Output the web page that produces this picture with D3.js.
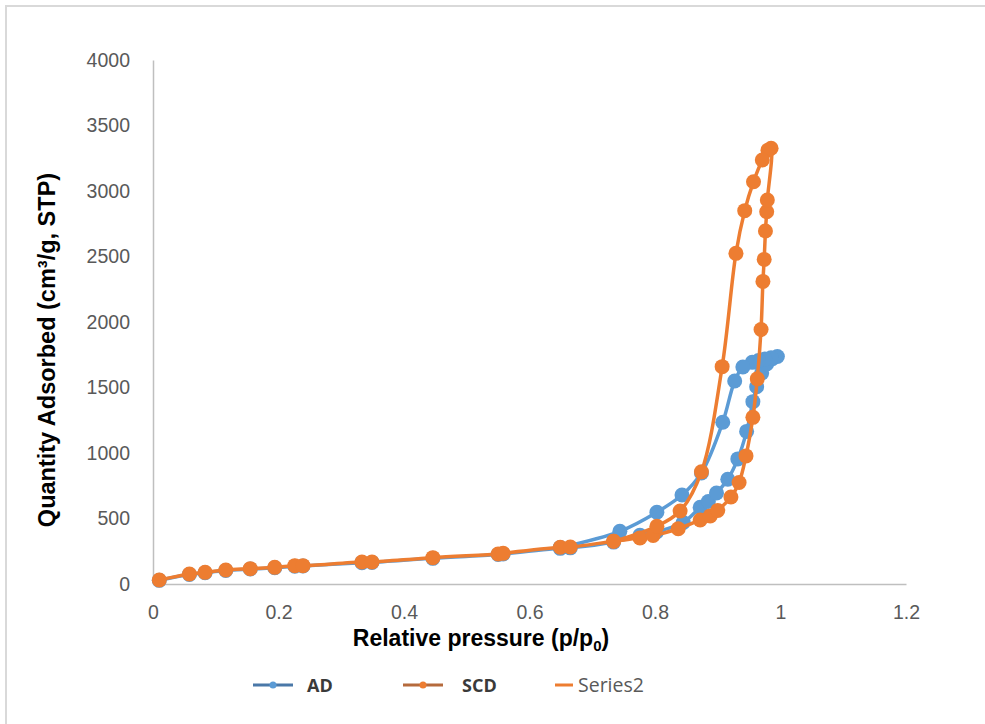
<!DOCTYPE html>
<html>
<head>
<meta charset="utf-8">
<style>
  body { margin: 0; background: #fff; }
  svg { font-family: "Open Sans", "Liberation Sans", sans-serif; }
  .tick text { fill: #595959; font-size: 19.5px; }
  .title { font-family: "Liberation Sans", Arial, sans-serif; font-weight: bold; fill: #000; }
</style>
</head>
<body>
<svg id="chart" width="985" height="724"></svg>
<script src="https://d3js.org/d3.v7.min.js"></script>
<script>

// ----------------------------------------------------------------------------
//                               DATA
// ----------------------------------------------------------------------------
// AD isotherm: adsorption then desorption branch (p/p0, cm3/g STP)
var adPressure = [0.010, 0.058, 0.083, 0.116, 0.155, 0.194, 0.226, 0.239, 0.333, 0.349,
                  0.446, 0.550, 0.558, 0.649, 0.665, 0.734, 0.776, 0.803, 0.845, 0.872,
                  0.885, 0.898, 0.916, 0.932, 0.946, 0.956, 0.962, 0.970, 0.978, 0.987,
                  0.995,
                  0.985, 0.975, 0.965, 0.955, 0.940, 0.927, 0.908, 0.874, 0.843, 0.803,
                  0.744, 0.649];
var adQuantity = [28, 72, 86, 103, 114, 124, 135, 137, 163, 165,
                  196, 225, 229, 272, 276, 320, 372, 400, 470, 585,
                  630, 695, 800, 955, 1165, 1392, 1506, 1610, 1680, 1720,
                  1737,
                  1727, 1717, 1706, 1692, 1656, 1550, 1235, 848, 679, 548,
                  402, 278];

// SCD isotherm
var scdPressure = [0.010, 0.058, 0.083, 0.116, 0.155, 0.194, 0.226, 0.239, 0.333, 0.349,
                   0.446, 0.550, 0.558, 0.649, 0.665, 0.734, 0.776, 0.797, 0.837, 0.872,
                   0.888, 0.900, 0.921, 0.934, 0.945, 0.956, 0.963, 0.969, 0.972, 0.974,
                   0.976, 0.978, 0.979, 0.985,
                   0.980, 0.971, 0.957, 0.943, 0.929, 0.907, 0.874, 0.840, 0.803, 0.734];
var scdQuantity = [30, 76, 89, 107, 117, 127, 140, 140, 168, 168,
                   201, 229, 234, 280, 282, 326, 352, 370, 422, 489,
                   520, 562, 664, 775, 978, 1272, 1566, 1943, 2310, 2478,
                   2695, 2842, 2931, 3326,
                   3312, 3237, 3071, 2850, 2524, 1659, 856, 557, 441, 326];

var xTicks = [0, 0.2, 0.4, 0.6, 0.8, 1, 1.2];
var yTicks = [0, 500, 1000, 1500, 2000, 2500, 3000, 3500, 4000];

var blue = "#5B9BD5",
    orange = "#ED7D31";

// ----------------------------------------------------------------------------
//                               CHART
// ----------------------------------------------------------------------------
var svg = d3.select("#chart");

// chart area border
svg.append("rect")
    .attr("x", 6).attr("y", 6)
    .attr("width", 995).attr("height", 730)
    .attr("fill", "none")
    .attr("stroke", "#d9d9d9")
    .attr("stroke-width", 2);

var x = d3.scaleLinear().domain([0, 1.2]).range([153, 906]);
var y = d3.scaleLinear().domain([0, 4000]).range([584, 60]);

// axes
var xAxis = svg.append("g")
    .attr("transform", "translate(0,584)")
    .call(d3.axisBottom(x).tickValues(xTicks).tickSize(0).tickPadding(21)
        .tickFormat(d3.format("")));
var yAxis = svg.append("g")
    .attr("transform", "translate(153,0)")
    .call(d3.axisLeft(y).tickValues(yTicks).tickSize(0).tickPadding(23)
        .tickFormat(d3.format("d")));

xAxis.select(".domain").attr("stroke", "#bfbfbf").attr("stroke-width", 1.5);
yAxis.select(".domain").attr("stroke", "#bfbfbf").attr("stroke-width", 1.5);

// axis titles
var xTitle = svg.append("text")
    .attr("class", "title")
    .attr("x", 481).attr("y", 646)
    .attr("text-anchor", "middle")
    .style("font-size", "23px");
xTitle.append("tspan").text("Relative pressure (p/p");
xTitle.append("tspan").attr("dy", 5).style("font-size", "15px").text("0");
xTitle.append("tspan").attr("dy", -5).text(")");

svg.append("text")
    .attr("class", "title")
    .attr("transform", "translate(55,350) rotate(-90)")
    .attr("text-anchor", "middle")
    .style("font-size", "23.5px")
    .text("Quantity Adsorbed (cm\u00B3/g, STP)");

// series
function zipSeries(px, qy) {
  return px.map(function(p, i) { return [p, qy[i]]; });
}

var line = d3.line()
    .x(function(d) { return x(d[0]); })
    .y(function(d) { return y(d[1]); })
    .curve(d3.curveCatmullRom.alpha(0.5));

var series = [
  { name: "AD", color: blue, data: zipSeries(adPressure, adQuantity) },
  { name: "SCD", color: orange, data: zipSeries(scdPressure, scdQuantity) }
];

series.forEach(function(s) {
  var g = svg.append("g");
  g.append("path")
      .datum(s.data)
      .attr("d", line)
      .attr("fill", "none")
      .attr("stroke", s.color)
      .attr("stroke-width", 3.5)
      .attr("stroke-linejoin", "round");
  g.selectAll("circle")
      .data(s.data)
      .enter().append("circle")
      .attr("cx", function(d) { return x(d[0]); })
      .attr("cy", function(d) { return y(d[1]); })
      .attr("r", 7.5)
      .attr("fill", s.color);
});

// legend
var legend = svg.append("g").attr("transform", "translate(0,685)");
var legendItems = [
  { label: "AD", x0: 253, line: "#4a78a8", marker: blue, bold: true, tx: 307, len: 40 },
  { label: "SCD", x0: 403, line: "#b56a3c", marker: orange, bold: true, tx: 462, len: 40 },
  { label: "Series2", x0: 555, line: orange, marker: null, bold: false, tx: 578, len: 18 }
];
legendItems.forEach(function(it) {
  legend.append("line")
      .attr("x1", it.x0).attr("x2", it.x0 + it.len)
      .attr("stroke", it.line).attr("stroke-width", 3);
  if (it.marker)
    legend.append("circle")
        .attr("cx", it.x0 + it.len / 2).attr("r", 3.5)
        .attr("fill", it.marker);
  legend.append("text")
      .attr("x", it.tx).attr("y", 7)
      .style("font-size", it.bold ? "18px" : "19.5px")
      .style("font-weight", it.bold ? "bold" : "normal")
      .attr("fill", it.bold ? "#3a3a3a" : "#595959")
      .text(it.label);
});

</script>
</body>
</html>
